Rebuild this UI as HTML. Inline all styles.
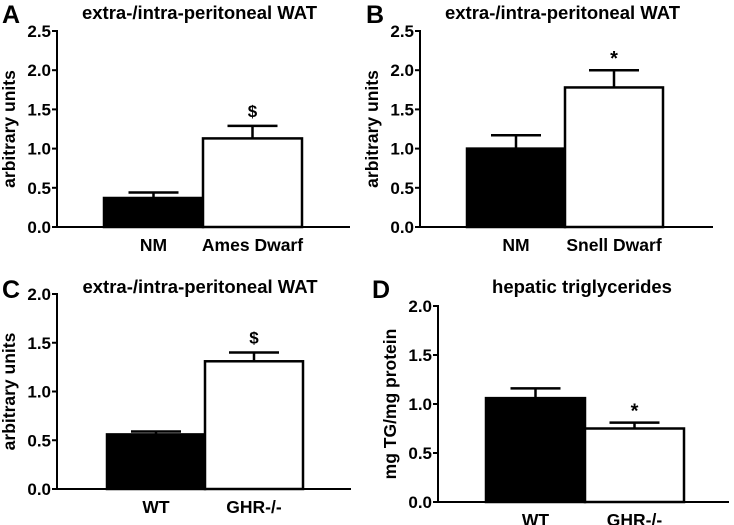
<!DOCTYPE html>
<html><head><meta charset="utf-8"><style>
html,body{margin:0;padding:0;background:#fff}
svg{display:block;font-family:"Liberation Sans",Arial,sans-serif;font-weight:bold}
</style></head><body>
<svg id="c" width="734" height="525" viewBox="0 0 734 525"></svg>
<script>
const panelLetters = ["A","B","C","D"];
const panelTitles = ["extra-/intra-peritoneal WAT","extra-/intra-peritoneal WAT","extra-/intra-peritoneal WAT","hepatic triglycerides"];
const yLabels = ["arbitrary units","arbitrary units","arbitrary units","mg TG/mg protein"];
const categoriesA = ["NM","Ames Dwarf"];
const categoriesB = ["NM","Snell Dwarf"];
const categoriesC = ["WT","GHR-/-"];
const categoriesD = ["WT","GHR-/-"];
const valuesA = [0.37, 1.13];
const errorsA = [0.07, 0.16];
const valuesB = [1.0, 1.78];
const errorsB = [0.17, 0.22];
const valuesC = [0.56, 1.31];
const errorsC = [0.03, 0.09];
const valuesD = [1.06, 0.75];
const errorsD = [0.10, 0.06];
const marksA = ["","$"];
const marksB = ["","*"];
const marksC = ["","$"];
const marksD = ["","*"];
const yMaxes = [2.5, 2.5, 2.0, 2.0];
const yTicksAB = [0,0.5,1.0,1.5,2.0,2.5];
const yTicksCD = [0,0.5,1.0,1.5,2.0];

const layouts = [
  {ax:57, top:31, bot:227, b0:104, bw:99, end:350, lx:2, ly:23, ty:19},
  {ax:420, top:31, bot:227, b0:467, bw:98, end:713, lx:366, ly:23, ty:19},
  {ax:57, top:294, bot:489, b0:107, bw:98, end:351, lx:2, ly:298, ty:293},
  {ax:438, top:306, bot:502, b0:486, bw:99, end:729, lx:372, ly:298, ty:293}
];
const cats=[categoriesA,categoriesB,categoriesC,categoriesD];
const vals=[valuesA,valuesB,valuesC,valuesD];
const errs=[errorsA,errorsB,errorsC,errorsD];
const marks=[marksA,marksB,marksC,marksD];
const ticks=[yTicksAB,yTicksAB,yTicksCD,yTicksCD];
const svg=document.getElementById('c');
const NS="http://www.w3.org/2000/svg";
function mk(t,a,txt){const e=document.createElementNS(NS,t);for(const k in a)e.setAttribute(k,a[k]);if(txt!==undefined)e.textContent=txt;svg.appendChild(e);return e;}
layouts.forEach((L,p)=>{
  const y=v=>L.bot-(v/yMaxes[p])*(L.bot-L.top);
  let e=mk('text',{x:L.lx,y:L.ly,'font-size':25},panelLetters[p]);
  
  
  const tcx = p===3 ? 582 : (L.ax+L.end)/2 - 4;
  e=mk('text',{x:tcx,y:L.ty,'font-size':18.5,'text-anchor':'middle'},panelTitles[p]);
  
  
  const cy=(L.top+L.bot)/2;
  e=mk('text',{x:0,y:0,'font-size':17.5,'text-anchor':'middle',transform:`translate(${L.ax-42},${cy}) rotate(-90)`},yLabels[p]);
  
  
  ticks[p].forEach(t=>{
    let l=mk('line',{x1:L.ax-5,x2:L.ax,y1:y(t),y2:y(t),stroke:'#000','stroke-width':2});
    
    
    let tx=mk('text',{x:L.ax-6,y:y(t)+6,'font-size':17,'text-anchor':'end'},t.toFixed(1));
    
    
  });
  vals[p].forEach((v,i)=>{
    const x0=L.b0+i*L.bw, xc=x0+L.bw/2, top=y(v+errs[p][i]);
    let el=mk('line',{x1:xc,x2:xc,y1:y(v),y2:top,stroke:'#000','stroke-width':2.5});
    
    
    el=mk('line',{x1:xc-25,x2:xc+25,y1:top,y2:top,stroke:'#000','stroke-width':2.5});
    
    
    el=mk('rect',{x:x0,y:y(v),width:L.bw,height:L.bot-y(v),fill:i===0?'#000':'#fff',stroke:'#000','stroke-width':2.5});
    
    
    if(marks[p][i]){
      el=mk('text',{x:xc,y:top-(marks[p][i]==='*'?5:9),'font-size':marks[p][i]==='*'?20:17,'text-anchor':'middle'},marks[p][i]);
      
      
    }
    el=mk('text',{x:xc,y:L.bot+24,'font-size':17.5,'text-anchor':'middle'},cats[p][i]);
    
    
  });
  let a=mk('line',{x1:L.ax,x2:L.ax,y1:L.top-1,y2:L.bot,stroke:'#000','stroke-width':2});
  
  
  a=mk('line',{x1:L.ax,x2:L.end,y1:L.bot,y2:L.bot,stroke:'#000','stroke-width':2});
  
  
});
</script>
</body></html>
